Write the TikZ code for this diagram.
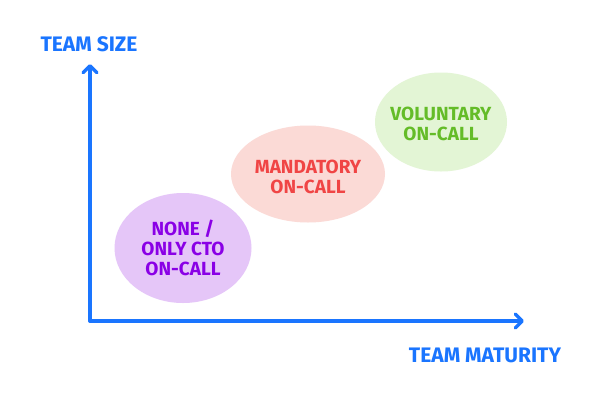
\documentclass[tikz,border=0pt]{standalone}
\usepackage{fontspec}
\setmainfont{Fira Sans}[BoldFont={Fira Sans Bold}]
\usetikzlibrary{arrows.meta,shapes.geometric}
\definecolor{axisblue}{HTML}{1A75FF}
\definecolor{purplefill}{HTML}{E5C6F8}
\definecolor{purpletext}{HTML}{8A00E6}
\definecolor{pinkfill}{HTML}{FBDAD6}
\definecolor{pinktext}{HTML}{F04545}
\definecolor{greenfill}{HTML}{E3F5D5}
\definecolor{greentext}{HTML}{64BC28}
\tikzset{
  axis/.style={draw=axisblue, line width=3.5pt, line cap=round,
    -{Straight Barb[length=7pt,width=14pt,line width=3.5pt,round]}},
  axislabel/.style={text=axisblue, font=\bfseries\fontsize{21}{22}\selectfont},
  blob/.style={ellipse, draw=none, inner sep=0pt},
  blobtext/.style={align=center, inner sep=0pt, font=\bfseries\fontsize{19}{20}\selectfont},
}
\begin{document}
\begin{tikzpicture}[x=1pt,y=-1pt]
\useasboundingbox (0,0) rectangle (600,400);
\fill[white] (0,0) rectangle (600,400);
\coordinate (origin) at (90,321);
\coordinate (ytip) at (90,64);
\coordinate (xtip) at (524,321);
\draw[axis] (origin) -- (ytip);
\draw[axis] (origin) -- (xtip);
\node[axislabel] (ylab) at (89,44) {TEAM SIZE};
\node[axislabel] (xlab) at (485,355) {TEAM MATURITY};
\node[blob, fill=purplefill, minimum width=137pt, minimum height=110pt] (none) at (183,248) {};
\node[blobtext, text=purpletext] (nonetext) at (none.center) {NONE /\\ONLY CTO\\ON-CALL};
\node[blob, fill=pinkfill, minimum width=154pt, minimum height=97pt] (mand) at (308,174) {};
\node[blobtext, text=pinktext] (mandtext) at ([yshift=-3pt]mand.center) {MANDATORY\\ON-CALL};
\node[blob, fill=greenfill, minimum width=132pt, minimum height=99pt] (vol) at (441,122) {};
\node[blobtext, text=greentext] (voltext) at ([yshift=-1.5pt]vol.center) {VOLUNTARY\\ON-CALL};
\end{tikzpicture}
\end{document}
